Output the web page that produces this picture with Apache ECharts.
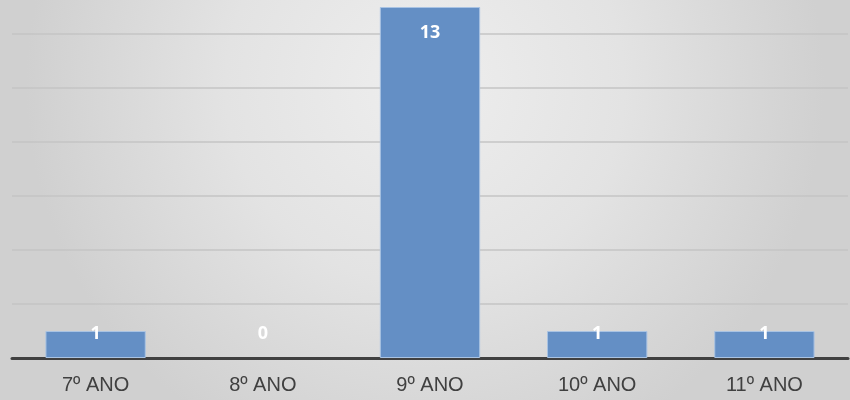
<!DOCTYPE html>
<html>
<head>
<meta charset="utf-8">
<script src="https://cdn.jsdelivr.net/npm/echarts@6/dist/echarts.min.js"></script>
<style>
html,body{margin:0;padding:0;overflow:hidden;background:#dcdcdc;}
/* o gráfico original está cortado em cima: a área do gráfico começa fora da janela */
#chart{width:850px;height:420px;margin-top:-20px;}
</style>
</head>
<body>
<div id="chart"></div>
<script>
// dados
const categorias = ['7º ANO', '8º ANO', '9º ANO', '10º ANO', '11º ANO'];
const valores = [1, 0, 13, 1, 1];
const yMax = 14;
const yIntervalo = 2;

let $chart = echarts.init(document.getElementById('chart'));

// barras baixas: o Excel deixa o rótulo perto da base
const dados = valores.map(v => ({
	value: v,
	itemStyle: v === 0 ? { borderWidth: 0 } : undefined,
	label: v >= 2
		? { position: 'insideTop', distance: 17 }
		: { position: 'insideBottom', distance: 15 }
}));

const option = {
	backgroundColor: {
		type: 'radial', x: 0.5, y: 0.25, r: 0.95,
		colorStops: [
			{ offset: 0, color: '#eeeeee' },
			{ offset: 0.5, color: '#e3e3e3' },
			{ offset: 1, color: '#d0d0d0' }
		]
	},
	grid: { left: 12, right: 2, top: 0, bottom: 42 },
	xAxis: {
		type: 'category',
		data: categorias,
		axisLine: { lineStyle: { color: '#404040', width: 3 } },
		axisTick: { show: false },
		axisLabel: {
			color: '#404040', fontSize: 20, margin: 17,
			fontFamily: 'Liberation Sans'
		}
	},
	yAxis: {
		type: 'value',
		min: 0, max: yMax, interval: yIntervalo,
		axisLabel: { show: false },
		axisLine: { show: false },
		axisTick: { show: false },
		splitLine: { lineStyle: { color: '#c4c4c4', width: 1.5 } }
	},
	series: [{
		type: 'bar',
		data: dados,
		barWidth: '60%',
		itemStyle: {
			color: '#648fc5',
			borderColor: '#a9c3e3',
			borderWidth: 1
		},
		label: {
			show: true,
			color: '#ffffff',
			fontSize: 18,
			fontWeight: 'bold',
			fontFamily: 'Open Sans'
		}
	}]
};

$chart.setOption(option, true);
</script>
</body>
</html>
